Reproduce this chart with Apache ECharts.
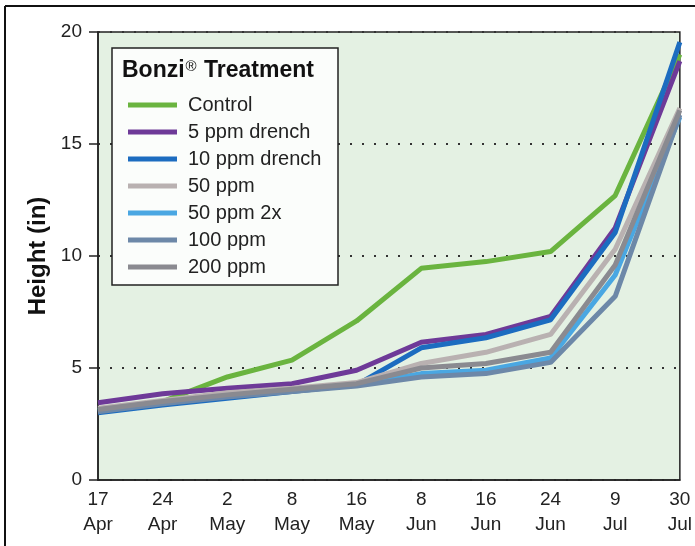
<!DOCTYPE html>
<html lang="en">
	<head>
		<meta charset="utf-8" />
		<title>Bonzi Treatment</title>
		<style>
			html, body { margin: 0; padding: 0; background: #fff; }
		</style>
	</head>
	<body>
		<div id="main" style="width: 695px;height: 546px"></div>

		<script src="https://cdn.jsdelivr.net/npm/echarts@6/dist/echarts.min.js"></script>
		<script type="text/javascript">
			// sampling dates
			var dates = ['17\nApr', '24\nApr', '2\nMay', '8\nMay', '16\nMay', '8\nJun', '16\nJun', '24\nJun', '9\nJul', '30\nJul'];

			// plant height (in) per treatment
			var control     = [3.1, 3.5, 4.6, 5.35, 7.1, 9.45, 9.75, 10.2, 12.7, 19.0];
			var drench5     = [3.45, 3.85, 4.1, 4.3, 4.9, 6.15, 6.5, 7.3, 11.25, 18.7];
			var drench10    = [3.0, 3.35, 3.65, 3.95, 4.25, 5.9, 6.35, 7.15, 11.05, 19.55];
			var ppm50       = [3.2, 3.55, 3.9, 4.1, 4.35, 5.2, 5.7, 6.5, 10.3, 16.6];
			var ppm50x2     = [3.1, 3.45, 3.75, 4.0, 4.25, 4.75, 4.9, 5.45, 9.15, 16.2];
			var ppm100      = [3.05, 3.4, 3.7, 3.95, 4.2, 4.6, 4.75, 5.25, 8.2, 16.3];
			var ppm200      = [3.15, 3.5, 3.8, 4.05, 4.3, 5.0, 5.2, 5.7, 9.6, 16.5];

			var names = ['Control', '5 ppm drench', '10 ppm drench', '50 ppm', '50 ppm 2x', '100 ppm', '200 ppm'];
			var values = [control, drench5, drench10, ppm50, ppm50x2, ppm100, ppm200];
			var colors = ['#6ab43f', '#6e3a98', '#1c6cc0', '#b9b1b1', '#4aa7e2', '#6d88a8', '#8a8a90'];

			var font = 'Liberation Sans, Arial, sans-serif';

			// draw order: grey ones first, blue/purple/green last
			var drawOrder = [5, 6, 4, 3, 1, 0, 2];
			var series = drawOrder.map(function (i) {
				return {
					name: names[i],
					type: 'line',
					data: values[i],
					symbol: 'none',
					color: colors[i],
					lineStyle: { width: 5, color: colors[i] },
					z: 3 + i,
					animation: false
				};
			});

			var myChart = echarts.init(document.getElementById('main'));

			var option = {
				textStyle: { fontFamily: font },
				grid: {
					left: 98,
					right: 12,
					top: 32,
					bottom: 66,
					show: true,
					backgroundColor: '#e4f1e3',
					borderColor: '#222',
					borderWidth: 1.5
				},
				legend: {
					data: names,
					orient: 'vertical',
					left: 123,
					top: 90,
					icon: 'rect',
					itemWidth: 49,
					itemHeight: 5,
					itemGap: 7,
					textStyle: { fontSize: 20, color: '#222', lineHeight: 20, padding: [0, 0, 0, 6] }
				},
				xAxis: {
					type: 'category',
					data: dates,
					boundaryGap: false,
					axisLine: { lineStyle: { color: '#222', width: 1.5 } },
					axisTick: { show: false },
					axisLabel: { fontSize: 19, color: '#222', lineHeight: 25, margin: 7, showMaxLabel: true, showMinLabel: true, interval: 0 },
					splitLine: { show: false }
				},
				yAxis: {
					type: 'value',
					min: 0,
					max: 20,
					interval: 5,
					name: 'Height (in)',
					nameLocation: 'middle',
					nameGap: 46,
					nameTextStyle: { fontSize: 24, fontWeight: 'bold', color: '#111' },
					axisLine: { show: true, lineStyle: { color: '#222', width: 1.5 } },
					axisTick: { show: true, inside: false, length: 9, lineStyle: { color: '#222', width: 1.5 } },
					axisLabel: { fontSize: 19, color: '#222', margin: 16 },
					splitLine: { show: true, lineStyle: { color: '#333', width: 2, type: [2, 10] } }
				},
				graphic: [
					{ type: 'line', shape: { x1: 5, y1: 6, x2: 695, y2: 6 }, style: { stroke: '#111', lineWidth: 2 }, z: 10 },
					{ type: 'line', shape: { x1: 5, y1: 6, x2: 5, y2: 546 }, style: { stroke: '#111', lineWidth: 2 }, z: 10 },
					{ type: 'rect', shape: { x: 112, y: 48, width: 226, height: 237 }, style: { fill: '#fbfdfb', stroke: '#222', lineWidth: 1.5 }, z: 1 },
					{
						type: 'text', left: 122, top: 59, z: 11,
						style: {
							text: '{b|Bonzi}{r|®}{b| Treatment}',
							rich: {
								b: { font: 'bold 23px ' + font, fill: '#111', verticalAlign: 'bottom' },
								r: { font: '15px ' + font, fill: '#111', verticalAlign: 'top', padding: [0, 1, 8, 1] }
							}
						}
					}
				],
				series: series
			};
			myChart.setOption(option);
		</script>
	</body>
</html>
